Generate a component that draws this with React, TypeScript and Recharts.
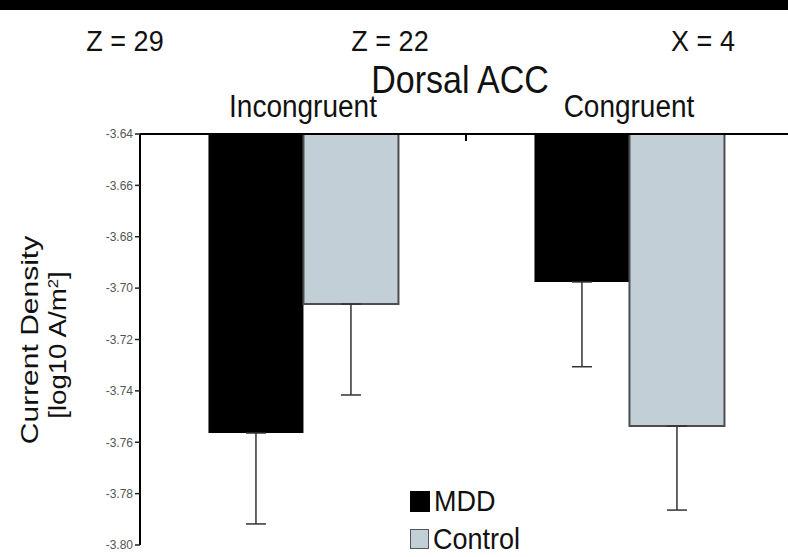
import React from "react";
import { BarChart, Bar, XAxis, YAxis, ErrorBar } from "recharts";

// values (log10 A/m^2)
const conditions = ["Incongruent", "Congruent"];
const mddValues = [-3.7564, -3.6976];
const controlValues = [-3.7062, -3.7537];
const mddErrors = [0.0354, 0.033];
const controlErrors = [0.0354, 0.0327];
const yTicks = [-3.8, -3.78, -3.76, -3.74, -3.72, -3.7, -3.68, -3.66, -3.64];
const sliceLabels = ["Z = 29", "Z = 22", "X = 4"];

// one-sided (downward) error bars: [below, above]
const data = conditions.map((c, i) => ({
  condition: c,
  mdd: mddValues[i],
  control: controlValues[i],
  mddErr: [mddErrors[i], 0],
  controlErr: [controlErrors[i], 0],
}));

const FONT = "'Liberation Sans', Arial, Helvetica, sans-serif";
const TICK_MARGIN = 17;

const CategoryTick = (props: any) => {
  const { x, y, payload, index } = props;
  const axisY = y + TICK_MARGIN;
  return (
    <g>
      <text
        x={x}
        y={y}
        textAnchor="middle"
        fontFamily={FONT}
        fontSize={28}
        fill="#111"
        transform={`translate(0 ${y}) scale(1 1.1) translate(0 ${-y})`}
      >
        {payload.value}
      </text>
      {index === 0 && (
        <line
          x1={x + payload.offset}
          x2={x + payload.offset}
          y1={axisY}
          y2={axisY + 7}
          stroke="#000"
          strokeWidth={2}
        />
      )}
    </g>
  );
};

const abs = (style: React.CSSProperties): React.CSSProperties => ({
  position: "absolute",
  fontFamily: FONT,
  color: "#111",
  whiteSpace: "nowrap",
  lineHeight: 1,
  ...style,
});

export default function App() {
  const sliceX = [125, 390, 703];
  return (
    <div
      style={{
        position: "relative",
        width: 788,
        height: 557,
        overflow: "hidden",
        background: "#fff",
      }}
    >
      <style>{`body { margin: 0; overflow: hidden; }`}</style>
      <div style={abs({ left: 0, top: 0, width: 788, height: 10, background: "#000" })} />
      {sliceLabels.map((s, i) => (
        <div
          key={s}
          style={abs({
            left: sliceX[i],
            top: 42,
            transform: "translate(-50%, -50%) scale(1, 1.06)",
            fontSize: 27,
          })}
        >
          {s}
        </div>
      ))}
      <div
        style={abs({
          left: 460,
          top: 80,
          transform: "translate(-50%, -50%) scale(1, 1.12)",
          fontSize: 34,
        })}
      >
        Dorsal ACC
      </div>

      <div
        style={abs({
          left: 30,
          top: 340,
          transform: "translate(-50%, -50%) rotate(-90deg) scale(1.25, 1)",
          fontSize: 24,
        })}
      >
        Current Density
      </div>
      <div
        style={abs({
          left: 58,
          top: 345,
          transform: "translate(-50%, -50%) rotate(-90deg) scale(1.2, 1)",
          fontSize: 23,
        })}
      >
        [log10 A/m<sup style={{ fontSize: 14 }}>2</sup>]
      </div>

      <div style={{ position: "absolute", left: 0, top: 0 }}>
        <BarChart
          width={800}
          height={557}
          data={data}
          margin={{ top: 0, right: 8, left: 0, bottom: 12 }}
          barCategoryGap="21%"
          barGap={0}
        >
          <XAxis
            dataKey="condition"
            orientation="top"
            height={134}
            tickSize={0}
            tickMargin={TICK_MARGIN}
            tickLine={false}
            axisLine={{ stroke: "#000", strokeWidth: 2 }}
            tick={<CategoryTick />}
            interval={0}
          />
          <YAxis
            type="number"
            domain={[-3.8, -3.64]}
            ticks={yTicks}
            width={140}
            tickSize={5}
            tickMargin={2}
            tickFormatter={(v: number) => v.toFixed(2)}
            tick={{ fontSize: 12, fill: "#555", fontFamily: FONT }}
            tickLine={{ stroke: "#222", strokeWidth: 1.5 }}
            axisLine={{ stroke: "#000", strokeWidth: 2 }}
          />
          <Bar dataKey="mdd" fill="#000" isAnimationActive={false}>
            <ErrorBar dataKey="mddErr" width={10} stroke="#333" strokeWidth={1.5} />
          </Bar>
          <Bar
            dataKey="control"
            fill="#c2cfd6"
            stroke="#4d4d4d"
            strokeWidth={2}
            isAnimationActive={false}
          >
            <ErrorBar dataKey="controlErr" width={10} stroke="#333" strokeWidth={1.5} />
          </Bar>
        </BarChart>
      </div>

      <div style={abs({ left: 410, top: 482, fontSize: 27 })}>
        <div style={{ display: "flex", alignItems: "center", height: 38 }}>
          <span
            style={{
              display: "inline-block",
              width: 20,
              height: 21,
              background: "#000",
              marginRight: 4,
            }}
          />
          <span style={{ display: "inline-block", transform: "scale(1, 1.08)" }}>MDD</span>
        </div>
        <div style={{ display: "flex", alignItems: "center", height: 38 }}>
          <span
            style={{
              display: "inline-block",
              width: 17,
              height: 18,
              background: "#c2cfd6",
              border: "1.5px solid #555",
              marginRight: 4,
            }}
          />
          <span style={{ display: "inline-block", transform: "scale(1, 1.08)" }}>Control</span>
        </div>
      </div>
    </div>
  );
}
